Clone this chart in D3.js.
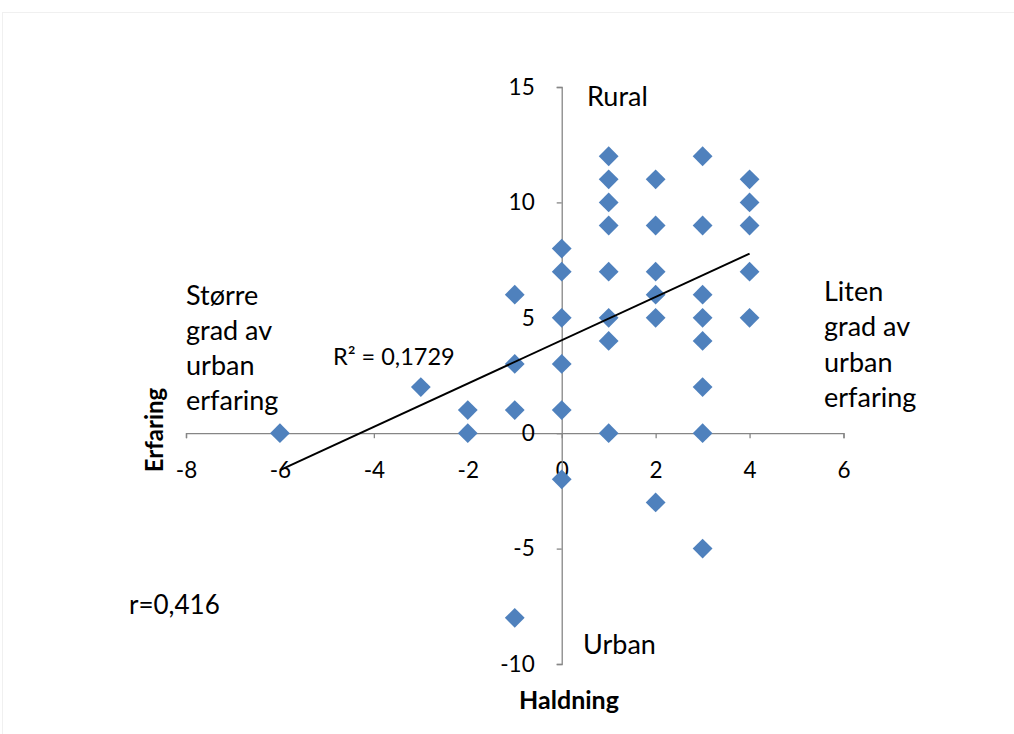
<!DOCTYPE html>
<html>
<head>
<meta charset="utf-8">
<script src="https://cdn.jsdelivr.net/npm/d3@7"></script>
<style>
  html, body { margin: 0; padding: 0; background: #ffffff; }
  svg { display: block; font-family: Lato, "Open Sans", sans-serif; }
</style>
</head>
<body>
<svg id="chart" width="1014" height="734"></svg>
<script>
// ---- data ----
const haldning = [-6, -3, -2, -2, -1, -1, -1, -1, 0, 0, 0, 0, 0, 0,
                  1, 1, 1, 1, 1, 1, 1, 1, 2, 2, 2, 2, 2, 2,
                  3, 3, 3, 3, 3, 3, 3, 3, 4, 4, 4, 4, 4];
const erfaring = [0, 2, 1, 0, 6, 3, 1, -8, 8, 7, 5, 3, 1, -2,
                  12, 11, 10, 9, 7, 5, 4, 0, 11, 9, 7, 6, 5, -3,
                  12, 9, 6, 5, 4, 2, 0, -5, 11, 10, 9, 7, 5];
const xTicks = [-8, -6, -4, -2, 0, 2, 4, 6];
const yTicks = [-10, -5, 0, 5, 10, 15];
const trendX = [-6, 4];
const trendY = [-1.6, 7.78];
const r2Label = "R² = 0,1729";
const rLabel = "r=0,416";
const xTitle = "Haldning";
const yTitle = "Erfaring";
const leftNote = ["Større", "grad av", "urban", "erfaring"];
const rightNote = ["Liten", "grad av", "urban", "erfaring"];
const topNote = "Rural";
const bottomNote = "Urban";

// ---- drawing ----
const svg = d3.select("#chart");
const axisColor = "#868686";
const markColor = "#4F81BD";

svg.append("rect").attr("x", 2.5).attr("y", 12.5).attr("width", 1020).attr("height", 730)
  .attr("fill", "#fff").attr("stroke", "#f0f0f0");

const x = d3.scaleLinear().domain([-8, 6]).range([186, 843.5]);
const y = d3.scaleLinear().domain([-10, 15]).range([664, 87]);

const fmt = d => String(d);

const xAxis = svg.append("g").attr("transform", `translate(0,${y(0)})`)
  .call(d3.axisBottom(x).tickValues(xTicks).tickSize(5).tickSizeOuter(5).tickPadding(24).tickFormat(fmt));
const yAxis = svg.append("g").attr("transform", `translate(${x(0)},0)`)
  .call(d3.axisLeft(y).tickValues(yTicks).tickSize(5).tickSizeOuter(5).tickPadding(22).tickFormat(fmt));

[xAxis, yAxis].forEach(g => {
  g.selectAll("path, line").attr("stroke", axisColor).attr("stroke-width", 1.3);
  g.selectAll("text").attr("fill", "#000").style("font-size", "22.5px").style("font-family", "Lato, sans-serif");
});

// points
const pts = haldning.map((h, i) => ({ x: h, y: erfaring[i] }));
svg.append("g").selectAll("path").data(pts).join("path")
  .attr("d", d3.symbol(d3.symbolSquare, 196))
  .attr("transform", d => `translate(${x(d.x)},${y(d.y)}) rotate(45)`)
  .attr("fill", markColor);

// trendline
svg.append("line")
  .attr("x1", x(trendX[0])).attr("y1", y(trendY[0]))
  .attr("x2", x(trendX[1])).attr("y2", y(trendY[1]))
  .attr("stroke", "#000").attr("stroke-width", 2);

// text helpers
function txt(s, px, py, size, opts = {}) {
  return svg.append("text").attr("x", px).attr("y", py)
    .attr("dominant-baseline", "central")
    .attr("text-anchor", opts.anchor || "start")
    .style("font-size", size + "px")
    .style("font-weight", opts.bold ? "bold" : "normal")
    .attr("fill", "#000").text(s);
}

txt(r2Label, 333, 356, 23.5);
txt(rLabel, 129, 604, 26);
txt(topNote, 587, 95, 27);
txt(bottomNote, 583, 643, 27);
leftNote.forEach((s, i) => txt(s, 186, 294 + i * 35.3, 27));
rightNote.forEach((s, i) => txt(s, 824, 290 + i * 35.5, 27));

txt(xTitle, 569, 699, 25, { anchor: "middle", bold: true });
svg.append("text")
  .attr("transform", `translate(153,430) rotate(-90)`)
  .attr("text-anchor", "middle").attr("dominant-baseline", "central")
  .style("font-size", "24px").style("font-weight", "bold").text(yTitle);
</script>
</body>
</html>
